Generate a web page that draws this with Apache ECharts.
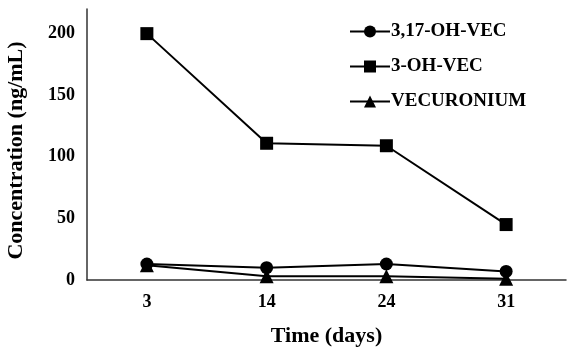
<!DOCTYPE html>
<html>
<head>
<meta charset="utf-8">
<script src="https://cdn.jsdelivr.net/npm/echarts@6/dist/echarts.min.js"></script>
<style>
  html, body { margin: 0; padding: 0; background: #fff; }
  #chart { width: 570px; height: 349px; }
</style>
</head>
<body>
<div id="chart"></div>
<script>
// time points (days)
var days = ['3', '14', '24', '31'];
// concentrations, ng/mL
var oh317 = [13, 10, 13, 7];
var oh3 = [200, 111, 109, 45];
var vecuronium = [12, 3, 3, 1];

var font = '"Liberation Serif", "Times New Roman", serif';

var chart = echarts.init(document.getElementById('chart'));

function lineSeries(name, data, symbol, size) {
    return {
        name: name,
        type: 'line',
        data: data,
        symbol: symbol,
        symbolSize: size,
        lineStyle: { color: '#000', width: 2 },
        itemStyle: { color: '#000' },
        animation: false
    };
}

var option = {
    backgroundColor: '#fff',
    grid: { left: 87, right: 4, top: 9, bottom: 69, outerBoundsMode: 'none' },
    legend: {
        orient: 'vertical',
        left: 349,
        top: 22,
        padding: 0,
        itemWidth: 40,
        itemHeight: 15,
        itemGap: 16,
        textStyle: { fontFamily: font, fontWeight: 'bold', fontSize: 19, color: '#000', padding: [0, 0, 0, -4] },
        data: ['3,17-OH-VEC', '3-OH-VEC', 'VECURONIUM']
    },
    xAxis: {
        type: 'category',
        data: days,
        boundaryGap: true,
        name: 'Time (days)',
        nameLocation: 'middle',
        nameGap: 45,
        nameTextStyle: { fontFamily: font, fontWeight: 'bold', fontSize: 22, color: '#000' },
        axisLine: { lineStyle: { color: '#333', width: 1.5 } },
        axisTick: { inside: true, length: 5, lineStyle: { color: '#333' } },
        axisLabel: { fontFamily: font, fontWeight: 'bold', fontSize: 18, color: '#000', margin: 13 }
    },
    yAxis: {
        type: 'value',
        min: 0,
        max: 220,
        interval: 50,
        name: 'Concentration (ng/mL)',
        nameLocation: 'middle',
        nameGap: 60,
        nameTextStyle: { fontFamily: font, fontWeight: 'bold', fontSize: 22, color: '#000', padding: [0, 0, 0, -12] },
        splitLine: { show: false },
        axisLine: { show: true, lineStyle: { color: '#333', width: 1.5 } },
        axisTick: { show: false },
        axisLabel: {
            fontFamily: font, fontWeight: 'bold', fontSize: 18, color: '#000', margin: 12,
            showMaxLabel: false
        }
    },
    series: [
        lineSeries('3,17-OH-VEC', oh317, 'circle', 13),
        lineSeries('3-OH-VEC', oh3, 'rect', 13),
        lineSeries('VECURONIUM', vecuronium, 'triangle', 14)
    ]
};

chart.setOption(option);
</script>
</body>
</html>
